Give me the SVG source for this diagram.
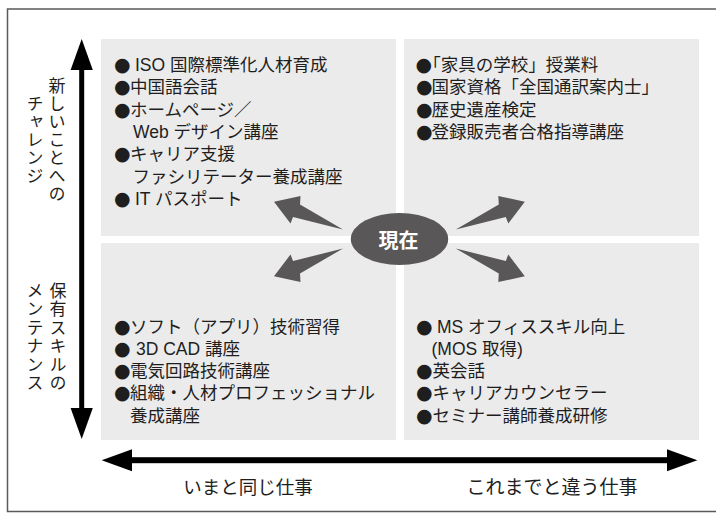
<svg xmlns="http://www.w3.org/2000/svg" width="716" height="517" viewBox="0 0 716 517">
<defs>
<style>
.panel{fill:#ebebeb}
.t{font-family:"Liberation Sans","Noto Sans CJK JP",sans-serif;font-size:17.5px;fill:#1e1e1e}
.b{font-family:"DejaVu Sans",sans-serif;font-size:19px}
.h{font-feature-settings:"halt"}
.vt{font-family:"Liberation Sans","Noto Sans CJK JP",sans-serif;font-size:17px;fill:#1e1e1e;writing-mode:vertical-rl;text-anchor:middle}
.ax{font-family:"Noto Sans CJK JP","Noto Sans",sans-serif;font-size:18.5px;fill:#1e1e1e;text-anchor:middle}
.blk{fill:#000}
.ga{fill:#595757}
</style>
<polygon id="garrow" points="274,201.7 300.5,196 300,204.5 343,229.5 293,217 290.5,223.5"/>
</defs>
<rect width="716" height="517" fill="#fff"/>
<path d="M716,9 H7.5 V511.5 H716" fill="none" stroke="#5a5a5a" stroke-width="1.5"/>

<g id="quadrant-tl">
<rect class="panel" x="101" y="39" width="295" height="197"/>
<text class="t"><tspan class="b" x="114" y="71">●</tspan><tspan x="135" y="71">ISO 国際標準化人材育成</tspan><tspan class="b" x="114" y="93.3">●</tspan><tspan x="130" y="93.3">中国語会話</tspan><tspan class="b" x="114" y="115.6">●</tspan><tspan x="130" y="115.6">ホームページ／</tspan><tspan x="133" y="137.9">Web デザイン講座</tspan><tspan class="b" x="114" y="160.2">●</tspan><tspan x="130" y="160.2">キャリア支援</tspan><tspan x="132.5" y="182.5">ファシリテーター養成講座</tspan><tspan class="b" x="114" y="204.8">●</tspan><tspan x="135" y="204.8">IT パスポート</tspan></text>
</g>
<g id="quadrant-tr">
<rect class="panel" x="404" y="39" width="295" height="197"/>
<text class="t"><tspan class="b" x="415.5" y="71">●</tspan><tspan class="h" x="432" y="71">「</tspan><tspan>家具の学校」授業料</tspan><tspan class="b" x="416" y="93.3">●</tspan><tspan x="431.5" y="93.3">国家資格「全国通訳案内士」</tspan><tspan class="b" x="416" y="115.6">●</tspan><tspan x="431.5" y="115.6">歴史遺産検定</tspan><tspan class="b" x="416" y="137.9">●</tspan><tspan x="431.5" y="137.9">登録販売者合格指導講座</tspan></text>
</g>
<g id="quadrant-bl">
<rect class="panel" x="101" y="243" width="295" height="197"/>
<text class="t"><tspan class="b" x="114" y="332.5">●</tspan><tspan x="130" y="332.5">ソフト（アプリ）技術習得</tspan><tspan class="b" x="114" y="354.8">●</tspan><tspan x="136" y="354.8">3D CAD 講座</tspan><tspan class="b" x="114" y="377.1">●</tspan><tspan x="130" y="377.1">電気回路技術講座</tspan><tspan class="b" x="114" y="399.4">●</tspan><tspan x="130" y="399.4">組織・人材プロフェッショナル</tspan><tspan x="130" y="421.7">養成講座</tspan></text>
</g>
<g id="quadrant-br">
<rect class="panel" x="404" y="243" width="295" height="197"/>
<text class="t"><tspan class="b" x="416" y="332.5">●</tspan><tspan x="437" y="332.5">MS オフィススキル向上</tspan><tspan x="431.5" y="354.8">(MOS 取得)</tspan><tspan class="b" x="416" y="377.1">●</tspan><tspan x="432.5" y="377.1">英会話</tspan><tspan class="b" x="416" y="399.4">●</tspan><tspan x="432.5" y="399.4">キャリアカウンセラー</tspan><tspan class="b" x="416" y="421.7">●</tspan><tspan x="432.5" y="421.7">セミナー講師養成研修</tspan></text>
</g>

<g id="axes">
<rect class="blk" x="79.2" y="68" width="5" height="342"/>
<polygon class="blk" points="81.7,39 92.8,70 70.6,70"/>
<polygon class="blk" points="81.7,439 92.8,408 70.6,408"/>
<rect class="blk" x="129" y="457.2" width="540" height="6"/>
<polygon class="blk" points="101.7,460.2 132,449.2 132,471.2"/>
<polygon class="blk" points="697.3,460.2 667,449.2 667,471.2"/>
</g>

<g id="label-new-challenge">
<text class="vt" style="letter-spacing:1px"><tspan x="55" y="140">新しいことへの</tspan><tspan x="33" y="140">チャレンジ</tspan></text>
</g>
<g id="label-skill-maintenance">
<text class="vt" style="letter-spacing:1.5px"><tspan x="56" y="337.5">保有スキルの</tspan><tspan x="33" y="337.5">メンテナンス</tspan></text>
</g>
<g id="label-same-work">
<text class="ax" x="248" y="494">いまと同じ仕事</text>
</g>
<g id="label-different-work">
<text class="ax" x="552" y="494" style="font-size:19px">これまでと違う仕事</text>
</g>

<g id="connectors">
<use href="#garrow" class="ga"/>
<use href="#garrow" class="ga" transform="translate(0,478) scale(1,-1)"/>
<use href="#garrow" class="ga" transform="translate(798.8,0) scale(-1,1)"/>
<use href="#garrow" class="ga" transform="translate(798.8,478) scale(-1,-1)"/>
</g>

<g id="node-now">
<ellipse cx="399.5" cy="239" rx="48.7" ry="26" fill="#595757"/>
<text x="398.5" y="247.5" text-anchor="middle" style="font-family:'Noto Sans CJK JP','Noto Sans',sans-serif;font-size:20px;font-weight:bold;fill:#fff">現在</text>
</g>
</svg>
